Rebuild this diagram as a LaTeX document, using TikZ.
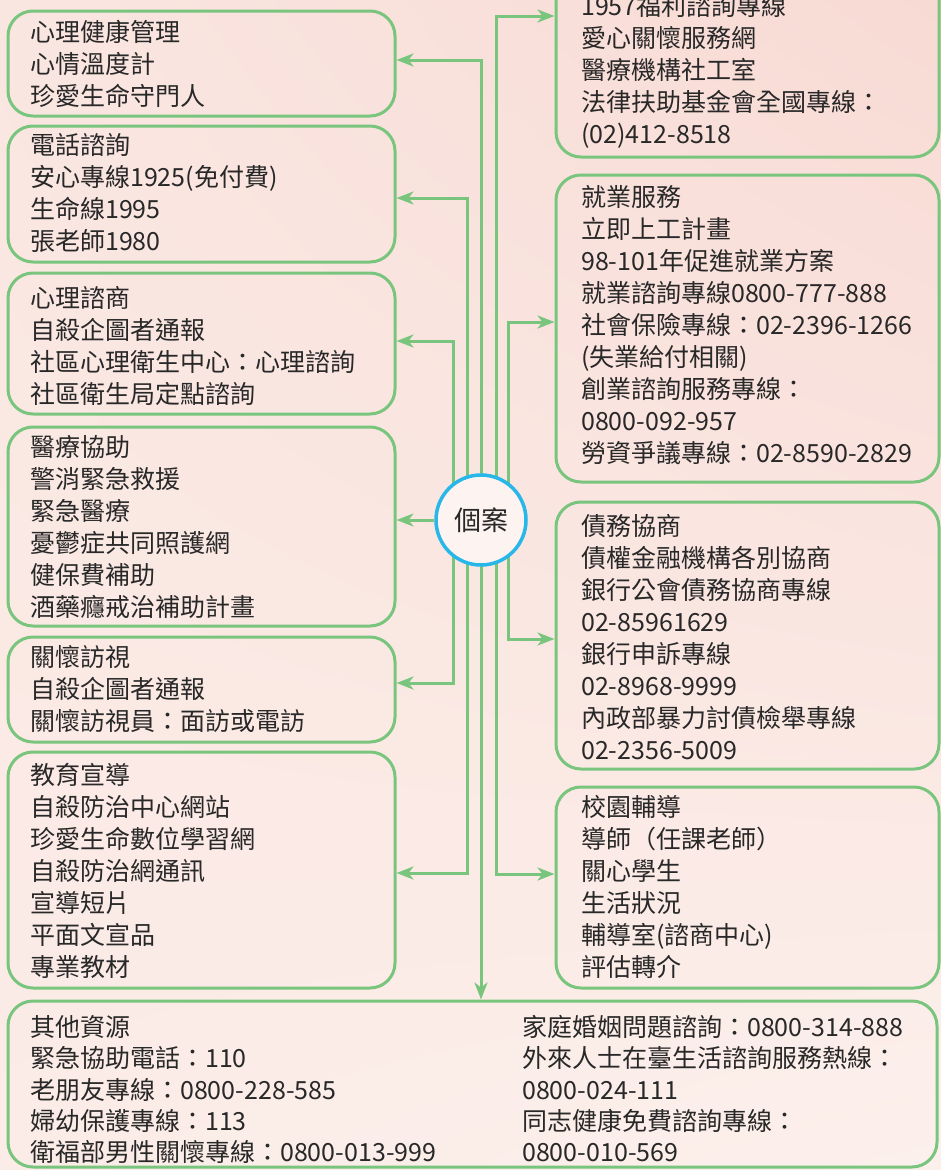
\documentclass[tikz,border=0pt]{standalone}
\usepackage{fontspec}
\setmainfont{Noto Sans CJK TC}
\usetikzlibrary{arrows.meta,calc,shadings}
\definecolor{gline}{RGB}{121,197,125}
\definecolor{cblue}{RGB}{41,182,232}
\definecolor{txt}{RGB}{40,40,40}
\definecolor{bgA}{RGB}{250,230,225}
\definecolor{bgB}{RGB}{248,218,212}
\definecolor{bgC}{RGB}{251,236,231}
\definecolor{bgD}{RGB}{252,240,236}
\definecolor{cfill}{RGB}{253,243,240}
\pgfdeclarelayer{back}\pgfdeclarelayer{wires}\pgfsetlayers{back,wires,main}
\newcommand{\ls}{\rule[-9pt]{0pt}{32pt}}
\newcommand{\lsb}{\rule[-8.25pt]{0pt}{31.25pt}}
\begin{document}
\begin{tikzpicture}[x=1pt,y=-1pt,
 box/.style={draw=gline, line width=3pt, rounded corners=25pt, inner sep=0pt, minimum width=387pt},
 rbox/.style={box, minimum width=383pt},
 lbl/.style={anchor=north west, inner sep=0pt, align=left, text=txt, font=\fontsize{25}{32}\selectfont},
 lblb/.style={lbl, font=\fontsize{25}{31.25}\selectfont},
 wire/.style={draw=gline, line width=3pt, -{Stealth[length=17pt,width=13pt,inset=5pt]}},
 hub/.style={circle, draw=cblue, line width=3.5pt, fill=cfill, minimum size=90pt, inner sep=0pt, text=txt, font=\fontsize{27}{30}\selectfont}
]
\useasboundingbox (0,0) rectangle (941,1170);
\clip (0,0) rectangle (941,1170);
\begin{pgfonlayer}{back}
\shade[upper left=bgA, upper right=bgB, lower left=bgC, lower right=bgD] (0,0) rectangle (941,1170);
\end{pgfonlayer}

% left boxes
\node[box, minimum height=105pt] (A) at (201.5,63.5) {};
\node[box, minimum height=136pt] (B) at (201.5,194) {};
\node[box, minimum height=141pt] (C) at (201.5,343.5) {};
\node[box, minimum height=199pt] (D) at (201.5,526.5) {};
\node[box, minimum height=105pt] (E) at (201.5,689.5) {};
\node[box, minimum height=236pt] (F) at (201.5,870) {};
% bottom box
\node[box, minimum width=929pt, minimum height=166pt] (G) at (472.5,1084) {};
% right boxes
\node[rbox, minimum height=217pt] (H) at (747.5,48.5) {};
\node[rbox, minimum height=307pt] (I) at (747.5,328.5) {};
\node[rbox, minimum height=267pt] (J) at (747.5,635.5) {};
\node[rbox, minimum height=201pt] (K) at (747.5,887.5) {};

% texts
\node[lbl] (tA) at (30,18.5) {\ls 心理健康管理\\ \ls 心情溫度計\\ \ls 珍愛生命守門人};
\node[lbl] (tB) at (30,131.5) {\ls 電話諮詢\\ \ls 安心專線1925(免付費)\\ \ls 生命線1995\\ \ls 張老師1980};
\node[lbl] (tC) at (30,284.5) {\ls 心理諮商\\ \ls 自殺企圖者通報\\ \ls 社區心理衛生中心：心理諮詢\\ \ls 社區衛生局定點諮詢};
\node[lbl] (tD) at (30,433.5) {\ls 醫療協助\\ \ls 警消緊急救援\\ \ls 緊急醫療\\ \ls 憂鬱症共同照護網\\ \ls 健保費補助\\ \ls 酒藥癮戒治補助計畫};
\node[lbl] (tE) at (30,643.5) {\ls 關懷訪視\\ \ls 自殺企圖者通報\\ \ls 關懷訪視員：面訪或電訪};
\node[lbl] (tF) at (30,761.5) {\ls 教育宣導\\ \ls 自殺防治中心網站\\ \ls 珍愛生命數位學習網\\ \ls 自殺防治網通訊\\ \ls 宣導短片\\ \ls 平面文宣品\\ \ls 專業教材};
\node[lbl] (tH) at (581,-7.5) {\ls 1957福利諮詢專線\\ \ls 愛心關懷服務網\\ \ls 醫療機構社工室\\ \ls 法律扶助基金會全國專線：\\ \ls (02)412-8518};
\node[lbl] (tI) at (581,183.5) {\ls 就業服務\\ \ls 立即上工計畫\\ \ls 98-101年促進就業方案\\ \ls 就業諮詢專線0800-777-888\\ \ls 社會保險專線：02-2396-1266\\ \ls (失業給付相關)\\ \ls 創業諮詢服務專線：\\ \ls 0800-092-957\\ \ls 勞資爭議專線：02-8590-2829};
\node[lbl] (tJ) at (581,512.5) {\ls 債務協商\\ \ls 債權金融機構各別協商\\ \ls 銀行公會債務協商專線\\ \ls 02-85961629\\ \ls 銀行申訴專線\\ \ls 02-8968-9999\\ \ls 內政部暴力討債檢舉專線\\ \ls 02-2356-5009};
\node[lbl] (tK) at (581,793.5) {\ls 校園輔導\\ \ls 導師（任課老師）\\ \ls 關心學生\\ \ls 生活狀況\\ \ls 輔導室(諮商中心)\\ \ls 評估轉介};
\node[lblb] (tG1) at (30,1013.5) {\lsb 其他資源\\ \lsb 緊急協助電話：110\\ \lsb 老朋友專線：0800-228-585\\ \lsb 婦幼保護專線：113\\ \lsb 衛福部男性關懷專線：0800-013-999};
\node[lblb] (tG2) at (522,1013.5) {\lsb 家庭婚姻問題諮詢：0800-314-888\\ \lsb 外來人士在臺生活諮詢服務熱線：\\ \lsb 0800-024-111\\ \lsb 同志健康免費諮詢專線：\\ \lsb 0800-010-569};

% hub
\node[hub] (c) at (481,520) {個案};

% connectors
\begin{pgfonlayer}{wires}
\draw[wire] (c.center) |- (A.east |- 0,60);
\draw[wire] ([xshift=-14pt]c.center) |- (B.east |- 0,198);
\draw[wire] ([xshift=-28pt]c.center) |- (C.east |- 0,341);
\draw[wire] (c.west) -- (D.east |- c.west);
\draw[wire] ([xshift=-28pt]c.center) |- (E.east |- 0,683);
\draw[wire] ([xshift=-14pt]c.center) |- (F.east |- 0,873);
\draw[wire] (c.center) -- (G.north -| c.center);
\draw[wire] ([xshift=15pt]c.center) |- (H.west |- 0,16);
\draw[wire] ([xshift=27pt]c.center) |- (I.west |- 0,322);
\draw[wire] ([xshift=27pt]c.center) |- (J.west |- 0,639);
\draw[wire] ([xshift=15pt]c.center) |- (K.west |- 0,874);
\end{pgfonlayer}
\end{tikzpicture}
\end{document}
